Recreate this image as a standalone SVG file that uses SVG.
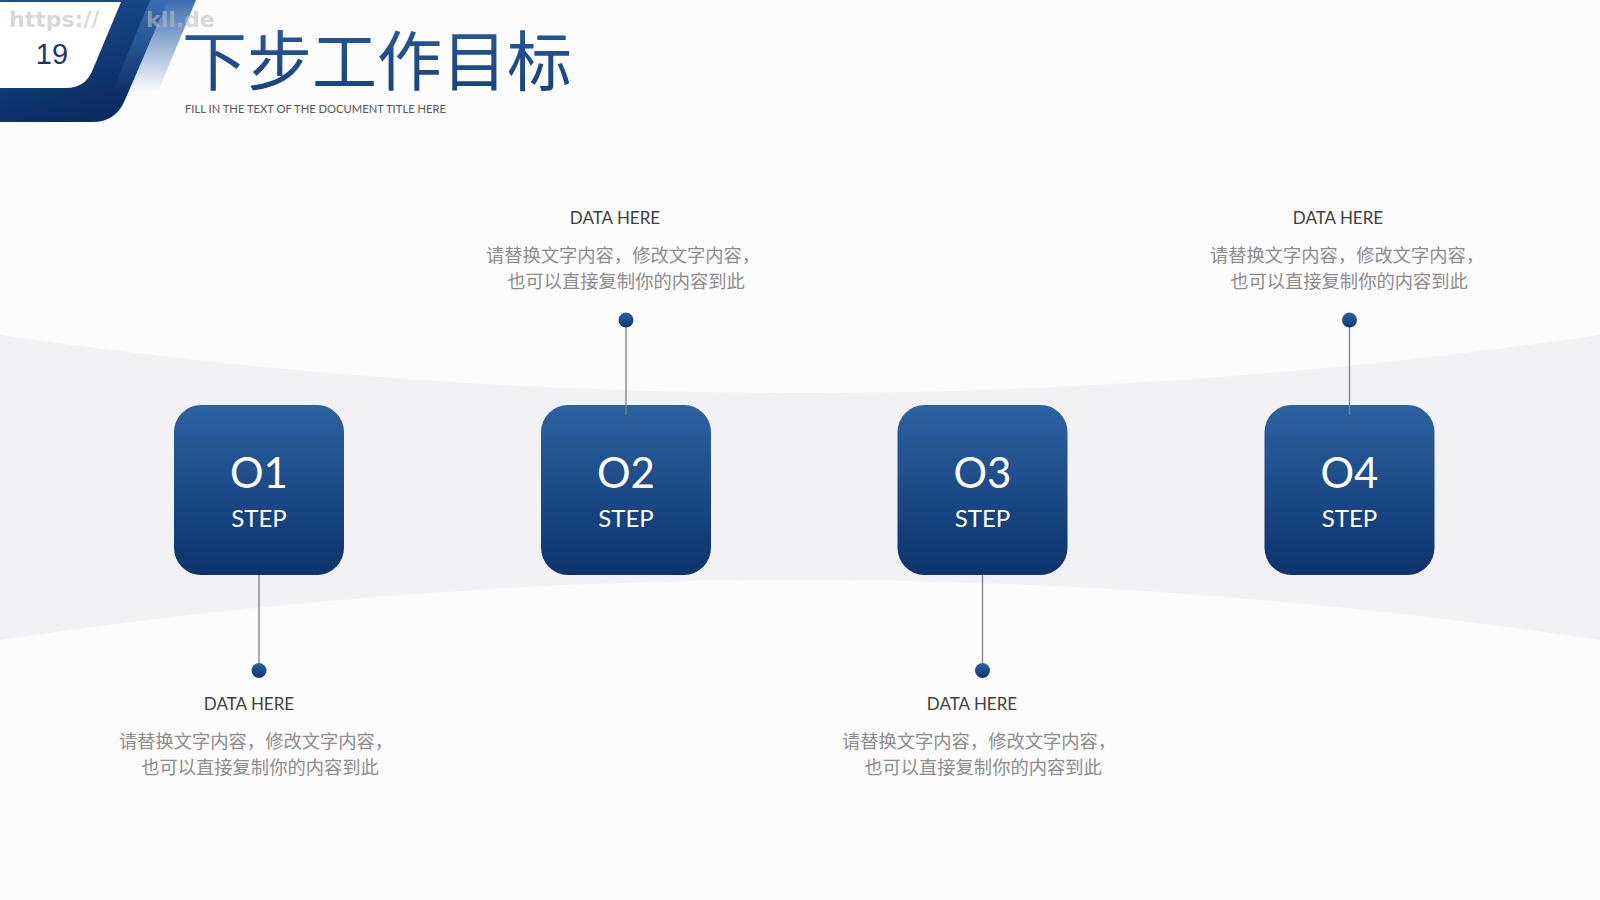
<svg xmlns="http://www.w3.org/2000/svg" width="1600" height="900" viewBox="0 0 1600 900">
<defs>
<linearGradient id="boxG" x1="0" y1="0" x2="0" y2="1">
<stop offset="0" stop-color="#2c62a2"/>
<stop offset="1" stop-color="#0c336c"/>
</linearGradient>
<linearGradient id="dotG" x1="0" y1="0" x2="0" y2="1">
<stop offset="0" stop-color="#2d62a6"/>
<stop offset="1" stop-color="#0d3672"/>
</linearGradient>
<linearGradient id="hdrG" x1="0" y1="0" x2="0.4" y2="1">
<stop offset="0" stop-color="#1d4f92"/>
<stop offset="1" stop-color="#0a2c62"/>
</linearGradient>
<linearGradient id="stripeG" x1="0" y1="0" x2="0" y2="1">
<stop offset="0" stop-color="#3a6cb0" stop-opacity="1"/>
<stop offset="1" stop-color="#3a6cb0" stop-opacity="0"/>
</linearGradient>
<linearGradient id="titleG" x1="0" y1="0" x2="0" y2="1">
<stop offset="0" stop-color="#2a5d9e"/>
<stop offset="1" stop-color="#163f7c"/>
</linearGradient>
<style>
.box{fill:url(#boxG)}
.num{font-family:Lato,"Open Sans",sans-serif;font-size:42px;fill:#fff;text-anchor:middle}
.step{font-family:Lato,"Open Sans",sans-serif;font-size:24px;fill:#fff;text-anchor:middle}
.hd{font-family:Lato,"Open Sans",sans-serif;font-size:17px;fill:#404040;text-anchor:middle}
.cn{font-family:"Noto Sans CJK SC",sans-serif;font-size:18.3px;fill:#8c8c8c;text-anchor:middle}
.ln{stroke:#7f7f7f;stroke-width:1.3;fill:none}
.dot{fill:url(#dotG)}
.wm{font-family:"DejaVu Sans",sans-serif;font-size:22px;font-weight:bold;fill:#bdbdbd;fill-opacity:0.6}
</style>
</defs>
<rect width="1600" height="900" fill="#fcfcfd"/>
<path d="M0,335 Q800,451 1600,335 L1600,640 Q800,520 0,640 Z" fill="#f2f1f4"/>

<g id="header">
<path d="M0,0 H168 L125,100 Q116,122 92,122 H0 Z" fill="url(#hdrG)"/>
<path d="M150,0 H196 L158,92 H112 Z" fill="url(#stripeG)"/>
<path d="M0,2 H121 L93,69 Q86,88 66,88 H0 Z" fill="#ffffff"/>
<text x="52" y="64" font-family="Liberation Sans,Arial,sans-serif" font-size="29" fill="#1b3862" text-anchor="middle">19</text>
<text class="wm" x="9" y="27">https://</text>
<text class="wm" x="146" y="27">kll.de</text>
<text x="182" y="85" font-family="Noto Sans CJK SC,sans-serif" font-size="65" fill="url(#titleG)">下步工作目标</text>
<text x="185" y="113" font-family="Lato,Open Sans,sans-serif" font-size="11" fill="#595959" textLength="261" lengthAdjust="spacingAndGlyphs">FILL IN THE TEXT OF THE DOCUMENT TITLE HERE</text>
</g>

<g id="connectors">
<line class="ln" x1="259" y1="575" x2="259" y2="670"/>
<line class="ln" x1="626" y1="320" x2="626" y2="415"/>
<line class="ln" x1="982.5" y1="575" x2="982.5" y2="670"/>
<line class="ln" x1="1349.5" y1="320" x2="1349.5" y2="415"/>
<circle class="dot" cx="259" cy="670.5" r="7.5"/>
<circle class="dot" cx="626" cy="320" r="7.5"/>
<circle class="dot" cx="982.5" cy="670.5" r="7.5"/>
<circle class="dot" cx="1349.5" cy="320" r="7.5"/>
</g>

<g id="step1">
<rect class="box" x="174" y="405" width="170" height="170" rx="27"/>
<text class="num" x="259" y="488">O1</text>
<text class="step" x="259" y="527">STEP</text>
</g>
<g id="step2">
<rect class="box" x="541" y="405" width="170" height="170" rx="27"/>
<line class="ln" x1="626" y1="405" x2="626" y2="415"/>
<text class="num" x="626" y="488">O2</text>
<text class="step" x="626" y="527">STEP</text>
</g>
<g id="step3">
<rect class="box" x="897.5" y="405" width="170" height="170" rx="27"/>
<text class="num" x="982.5" y="488">O3</text>
<text class="step" x="982.5" y="527">STEP</text>
</g>
<g id="step4">
<rect class="box" x="1264.5" y="405" width="170" height="170" rx="27"/>
<line class="ln" x1="1349.5" y1="405" x2="1349.5" y2="415"/>
<text class="num" x="1349.5" y="488">O4</text>
<text class="step" x="1349.5" y="527">STEP</text>
</g>

<g id="text1">
<text class="hd" x="249" y="710">DATA HERE</text>
<text class="cn" x="256" y="748">请替换文字内容，修改文字内容，</text>
<text class="cn" x="260" y="774">也可以直接复制你的内容到此</text>
</g>
<g id="text2">
<text class="hd" x="615" y="224">DATA HERE</text>
<text class="cn" x="623" y="262">请替换文字内容，修改文字内容，</text>
<text class="cn" x="626" y="288">也可以直接复制你的内容到此</text>
</g>
<g id="text3">
<text class="hd" x="972" y="710">DATA HERE</text>
<text class="cn" x="979" y="748">请替换文字内容，修改文字内容，</text>
<text class="cn" x="983" y="774">也可以直接复制你的内容到此</text>
</g>
<g id="text4">
<text class="hd" x="1338" y="224">DATA HERE</text>
<text class="cn" x="1347" y="262">请替换文字内容，修改文字内容，</text>
<text class="cn" x="1349" y="288">也可以直接复制你的内容到此</text>
</g>
</svg>
